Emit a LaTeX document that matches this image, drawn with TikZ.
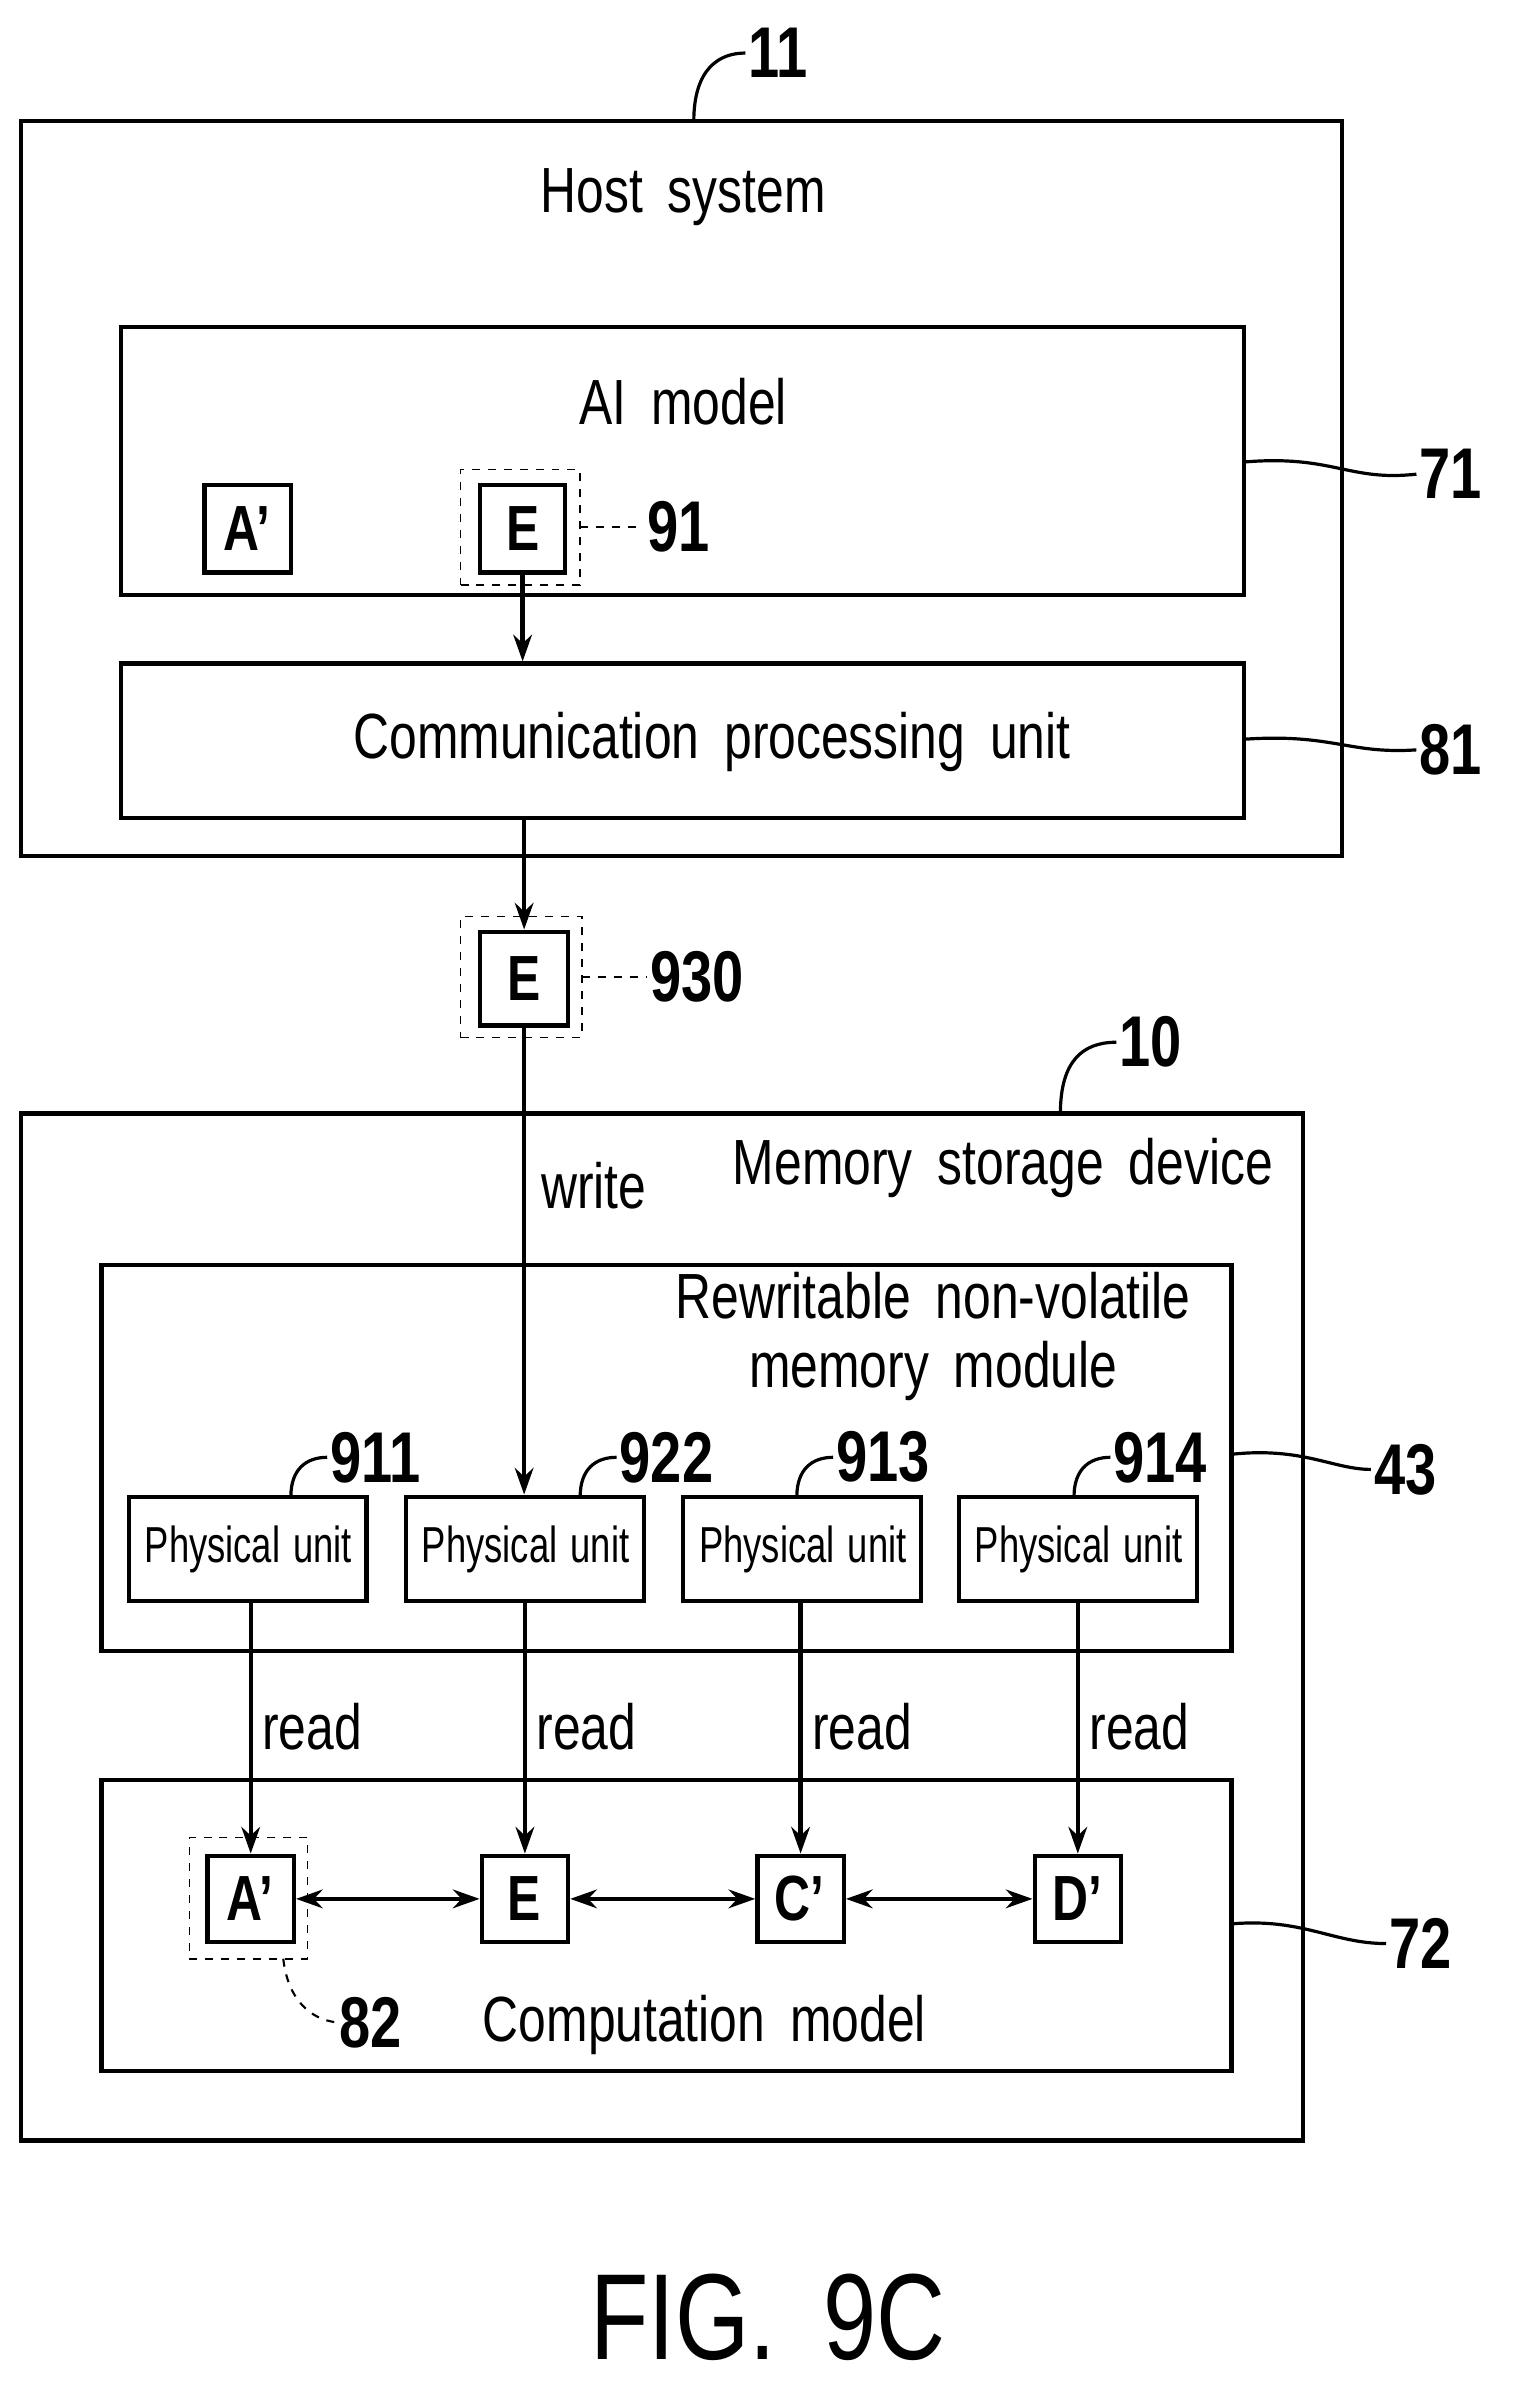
\documentclass[tikz,border=0pt]{standalone}
\usepackage{fontspec}
\setmainfont{Liberation Sans}[FakeStretch=0.78,WordSpace=1.8]
\newfontfamily\pufont{Liberation Sans}[FakeStretch=0.72,WordSpace=1.3]
\usetikzlibrary{fit,arrows.meta}
\begin{document}
\begin{tikzpicture}[x=0.02cm,y=-0.02cm,
  bx/.style={draw,line width=1.6pt,inner sep=0pt},
  dsh/.style={draw,dashed,line width=0.6pt,inner sep=0pt},
  ar/.style={line width=1.6pt,-{Stealth[length=10pt,width=7pt]}},
  dar/.style={line width=1.6pt,{Stealth[length=10pt,width=7pt]}-{Stealth[length=10pt,width=7pt]}},
  ld/.style={line width=1.2pt},
  txt/.style={font=\fontsize{24}{26}\selectfont},
  sm/.style={font=\pufont\fontsize{19}{21}\selectfont},
  lt/.style={font=\fontsize{27}{29}\selectfont\bfseries,inner sep=1pt},
  lt2/.style={font=\fontsize{24}{26}\selectfont\bfseries}]
\useasboundingbox (0,0) rectangle (1000,1583);
% host
\node[bx,fit={(14,80)(886,565)}] (host) {};
\node[txt] at (451,130) (hs) {Host system};
\node[bx,fit={(80,216)(821,393)}] (ai) {};
\node[txt] at (451,265) (aim) {AI model};
\node[bx,fit={(135,320)(192,378)}] (a1) {};
\node[lt2] at (163,349) (a1t) {A'};
\node[bx,fit={(317,320)(373,378)}] (e1) {};
\node[lt2] at (345,349) (e1t) {E};
\node[dsh,fit={(304,310)(383,386)}] (e1d) {};
\node[bx,fit={(80,438)(821,540)}] (cpu) {};
\node[txt] at (470,490) (cput) {Communication processing unit};
\node[lt,anchor=west] at (425,348) (l91) {91};
\draw[dashed,line width=0.8pt] (383,348) -- (l91.west);
\node[lt,anchor=west] at (935,313) (l71) {71};
\draw[ld] (821,305) .. controls (880,300) and (890,318) .. (l71.west);
\node[lt,anchor=west] at (935,495) (l81) {81};
\draw[ld] (821,488) .. controls (880,484) and (890,498) .. (l81.west);
\node[lt,anchor=west] at (492,35) (l11) {11};
\draw[ld] (458,80) .. controls (458,45) and (475,35) .. (l11.west);
\draw[ar] (e1.south) -- (cpu.north-|e1.south);
% 930
\node[bx,fit={(317,615)(375,677)}] (e2) {};
\node[lt2] at (346,646) (e2t) {E};
\node[dsh,fit={(304,605)(384,685)}] (e2d) {};
\draw[ar] (cpu.south-|e2.north) -- (e2.north);
\node[lt,anchor=west] at (427,645) (l930) {930};
\draw[dashed,line width=0.8pt] (384,645) -- (l930.west);
% memory
\node[bx,fit={(14,735)(860,1413)}] (mem) {};
\node[txt] at (662,771) (mst) {Memory storage device};
\node[lt,anchor=west] at (737,688) (l10) {10};
\draw[ld] (700,735) .. controls (700,700) and (715,688) .. (l10.west);
\node[bx,fit={(67,835)(813,1090)}] (rw) {};
\node[txt,align=center] at (616,882) (rwt) {Rewritable non-volatile\\memory module};
\node[lt,anchor=west] at (905,970) (l43) {43};
\draw[ld] (813,960) .. controls (860,955) and (880,970) .. (l43.west);
\foreach \n/\xa/\lx/\lab in {p1/85/216/911,p2/268/407/922,p3/451/550/913,p4/633/733/914}{
  \node[bx,fit={(\xa,988)(\xa+157,1057)}] (\n) {};
  \node[sm] at (\xa+79,1023) {Physical unit};
  \node[lt,anchor=west] (\n l) at (\lx,962) {\lab};
  \draw[ld] (\lx-24,988) .. controls (\lx-24,970) and (\lx-14,962) .. (\n l.west);
}
\draw[ar] (e2.south) -- (p2.north-|e2.south);
\node[txt] at (392,783) (wr) {write};
% computation
\node[bx,fit={(67,1175)(813,1367)}] (cm) {};
\node[txt] at (465,1337) (cmt) {Computation model};
\node[lt,anchor=west] at (915,1283) (l72) {72};
\draw[ld] (813,1270) .. controls (860,1266) and (880,1283) .. (l72.west);
\foreach \n/\xa/\t/\p in {na/137/A'/p1,nb/318/E/p2,nc/500/C'/p3,nd/683/D'/p4}{
  \node[bx,fit={(\xa,1225)(\xa+57,1282)}] (\n) {};
  \node[lt2] at (\xa+28,1253) {\t};
  \draw[ar] (\p.south-|\n.north) -- (\n.north);
  \node[txt,anchor=west] at (\xa+30,1140) {read};
}
\draw[dar] (na.east) -- (nb.west);
\draw[dar] (nb.east) -- (nc.west);
\draw[dar] (nc.east) -- (nd.west);
\node[dsh,fit={(125,1213)(203,1293)}] (nad) {};
\node[lt,anchor=west] at (222,1335) (l82) {82};
\draw[dashed,line width=0.8pt] (187,1293) .. controls (190,1320) and (205,1333) .. (l82.west);
\node[font=\fontsize{46}{50}\selectfont] at (507,1530) (fig) {FIG. 9C};
\end{tikzpicture}
\end{document}
